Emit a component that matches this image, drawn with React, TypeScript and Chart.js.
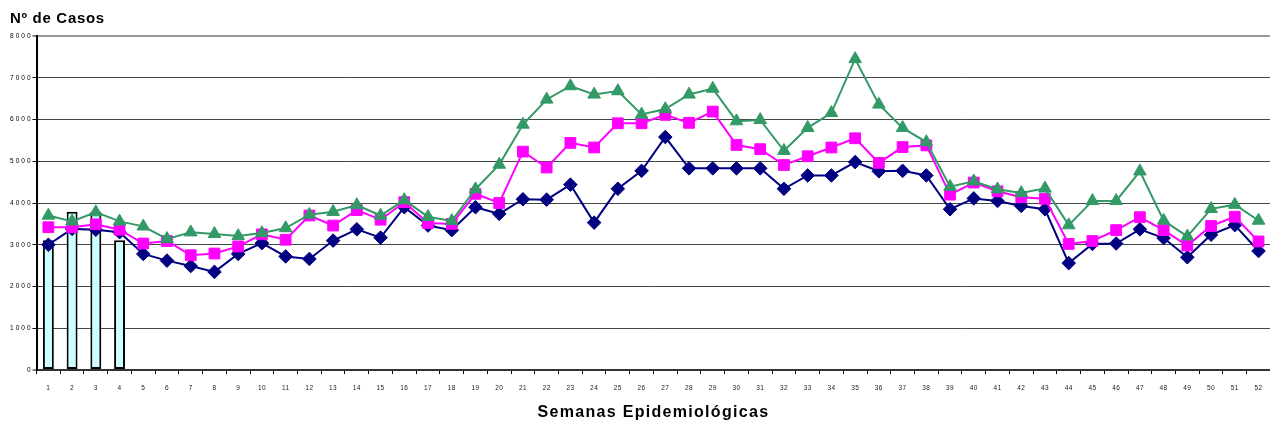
import React, { useEffect, useRef } from 'react';
import { Chart, registerables } from 'chart.js';

Chart.register(...registerables);

const weeks = ['1', '2', '3', '4', '5', '6', '7', '8', '9', '10', '11', '12', '13', '14', '15', '16', '17', '18', '19', '20', '21', '22', '23', '24', '25', '26', '27', '28', '29', '30', '31', '32', '33', '34', '35', '36', '37', '38', '39', '40', '41', '42', '43', '44', '45', '46', '47', '48', '49', '50', '51', '52'];

const yTicks = [0, 1000, 2000, 3000, 4000, 5000, 6000, 7000, 8000];

// Bars (current year, weeks 1-4)
const currentYear = [3110, 3790, 3790, 3110];

// Navy diamonds
const lowerSeries = [3000, 3380, 3360, 3300, 2780, 2620, 2490, 2350, 2780, 3040, 2720, 2660, 3100, 3370, 3170, 3900, 3460, 3350, 3900, 3740, 4090, 4080, 4440, 3530, 4340, 4770, 5580, 4830, 4830, 4830, 4830, 4340, 4660, 4660, 4980, 4760, 4770, 4660, 3850, 4110, 4050, 3930, 3850, 2560, 3020, 3030, 3370, 3160, 2700, 3240, 3470, 2850];

// Magenta squares
const middleSeries = [3420, 3420, 3490, 3360, 3030, 3090, 2750, 2790, 2960, 3250, 3120, 3700, 3460, 3830, 3600, 4020, 3520, 3500, 4220, 4000, 5230, 4850, 5440, 5330, 5910, 5910, 6110, 5920, 6190, 5390, 5290, 4910, 5120, 5330, 5550, 4960, 5340, 5380, 4200, 4490, 4280, 4140, 4100, 3020, 3090, 3350, 3660, 3350, 2980, 3450, 3670, 3080];

// Green triangles
const upperSeries = [3700, 3560, 3780, 3560, 3440, 3140, 3300, 3260, 3210, 3280, 3400, 3720, 3790, 3950, 3700, 4070, 3670, 3570, 4330, 4920, 5880, 6480, 6800, 6600, 6680, 6120, 6250, 6600, 6740, 5960, 5990, 5250, 5800, 6160, 7450, 6360, 5800, 5460, 4390, 4520, 4330, 4240, 4350, 3470, 4050, 4050, 4760, 3580, 3200, 3860, 3960, 3580];

const FONT = "'Liberation Sans', Arial, sans-serif";

function withSpacing(obj: any, method: string, spacing: string) {
  if (!obj || typeof obj[method] !== 'function') return;
  const orig = obj[method];
  obj[method] = function (...args: any[]) {
    const c = this.ctx as any;
    c.save();
    c.letterSpacing = spacing;
    const r = orig.apply(this, args);
    c.restore();
    return r;
  };
}

export default function App() {
  const ref = useRef<HTMLCanvasElement>(null);

  useEffect(() => {
    const canvas = ref.current!;
    const barData = weeks.map((_, i) => (i < currentYear.length ? currentYear[i] : null));

    const chart = new Chart(canvas, {
      type: 'bar',
      data: {
        labels: weeks,
        datasets: [
          {
            type: 'line',
            label: 'Máximo',
            data: upperSeries,
            borderColor: '#339966',
            backgroundColor: '#339966',
            pointBackgroundColor: '#339966',
            pointBorderColor: '#339966',
            borderWidth: 2,
            pointStyle: 'triangle',
            pointRadius: 7.3,
            pointBorderWidth: 1,
            tension: 0,
            order: 1,
          } as any,
          {
            type: 'line',
            label: 'Mediana',
            data: middleSeries,
            borderColor: '#FF00FF',
            backgroundColor: '#FF00FF',
            pointBackgroundColor: '#FF00FF',
            pointBorderColor: '#FF00FF',
            borderWidth: 2,
            pointStyle: 'rect',
            pointRadius: 7.6,
            pointBorderWidth: 1,
            tension: 0,
            order: 2,
          } as any,
          {
            type: 'line',
            label: 'Mínimo',
            data: lowerSeries,
            borderColor: '#000080',
            backgroundColor: '#000080',
            pointBackgroundColor: '#000080',
            pointBorderColor: '#000080',
            borderWidth: 2,
            pointStyle: 'rectRot',
            pointRadius: 6.8,
            pointBorderWidth: 1,
            tension: 0,
            order: 3,
          } as any,
          {
            type: 'bar',
            label: 'Casos',
            data: barData,
            backgroundColor: '#CCFFFF',
            borderColor: '#000000',
            borderWidth: 2,
            borderSkipped: false,
            barPercentage: 0.5,
            categoryPercentage: 0.92,
            order: 4,
          } as any,
        ],
      },
      options: {
        responsive: false,
        animation: false,
        devicePixelRatio: 1,
        layout: { padding: { left: 10, right: 0, top: 0, bottom: 0 } },
        plugins: {
          legend: { display: false },
          tooltip: { enabled: false },
          title: {
            display: true,
            text: 'Nº de Casos',
            align: 'start',
            color: '#000',
            font: { family: FONT, size: 15, weight: 'bold' },
            padding: { top: 10, bottom: 8 },
          },
        },
        scales: {
          x: {
            type: 'category',
            offset: true,
            grid: {
              display: true,
              offset: true,
              drawOnChartArea: false,
              drawTicks: true,
              tickLength: 4,
              tickColor: '#000',
              tickWidth: 1,
            },
            border: { display: true, color: '#333', width: 2 },
            ticks: {
              autoSkip: false,
              maxRotation: 0,
              minRotation: 0,
              padding: 10,
              color: '#222',
              font: { family: FONT, size: 6.5 },
            },
            title: {
              display: true,
              text: 'Semanas Epidemiológicas',
              color: '#000',
              font: { family: FONT, size: 16, weight: 'bold' },
              padding: { top: 0, bottom: 1.4 },
            },
            afterFit: (s: any) => {
              s.height = 54;
            },
          },
          y: {
            type: 'linear',
            min: 0,
            max: 8000,
            afterBuildTicks: (s: any) => {
              s.ticks = yTicks.map((v) => ({ value: v }));
            },
            grid: {
              color: (c: any) => (c.tick && c.tick.value === 8000 ? '#999' : c.tick && c.tick.value === 0 ? '#333' : '#444'),
              lineWidth: (c: any) => (c.tick && (c.tick.value === 8000 || c.tick.value === 0) ? 2 : 1),
              drawTicks: true,
              tickLength: 4,
              tickColor: '#000',
              tickWidth: 1,
            },
            border: { display: true, color: '#000', width: 2 },
            ticks: {
              padding: 0,
              color: '#000',
              font: { family: FONT, size: 6.5 },
              callback: (v: any) => String(v),
            },
            afterFit: (s: any) => {
              s.width = 26.5;
            },
          },
        },
      } as any,
    });

    withSpacing(chart.scales.y, 'drawLabels', '2px');
    withSpacing(chart.scales.x, 'drawLabels', '0.4px');
    withSpacing(chart.scales.x, 'drawTitle', '1.3px');
    withSpacing((chart as any).titleBlock, 'draw', '0.7px');
    chart.draw();

    return () => chart.destroy();
  }, []);

  return (
    <div
      style={{
        position: 'fixed',
        top: 0,
        left: 0,
        width: 1270,
        height: 424,
        overflow: 'hidden',
        background: '#fff',
      }}
    >
      <canvas ref={ref} width={1279} height={424} style={{ display: 'block', width: 1279, height: 424 }} />
    </div>
  );
}
